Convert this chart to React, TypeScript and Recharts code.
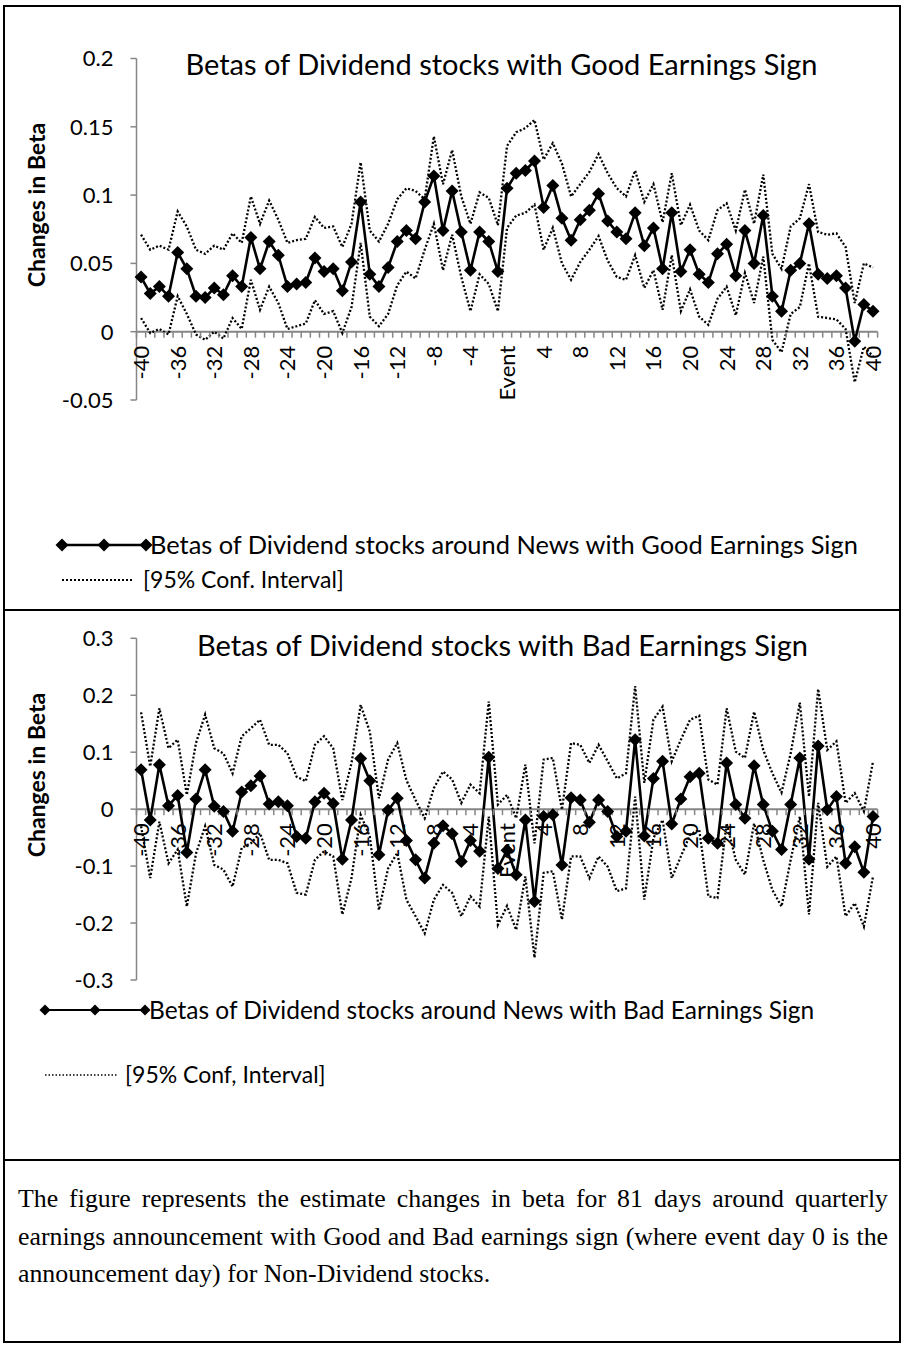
import React from 'react';
import { LineChart, Line, XAxis, YAxis, ReferenceLine, ReferenceDot } from 'recharts';

const days = [
  -40, -39, -38, -37, -36, -35, -34, -33, -32, -31, -30, -29, -28, -27, -26, -25, -24, -23, -22, -21,
  -20, -19, -18, -17, -16, -15, -14, -13, -12, -11, -10, -9, -8, -7, -6, -5, -4, -3, -2, -1,
  0, 1, 2, 3, 4, 5, 6, 7, 8, 9, 10, 11, 12, 13, 14, 15, 16, 17, 18, 19,
  20, 21, 22, 23, 24, 25, 26, 27, 28, 29, 30, 31, 32, 33, 34, 35, 36, 37, 38, 39, 40,
];
const dayTicks = [-40, -36, -32, -28, -24, -20, -16, -12, -8, -4, 0, 4, 8, 12, 16, 20, 24, 28, 32, 36, 40];

// good earnings sign
const goodBeta = [
  0.040, 0.028, 0.033, 0.026, 0.058, 0.046, 0.026, 0.025, 0.032, 0.027,
  0.041, 0.033, 0.069, 0.046, 0.066, 0.056, 0.033, 0.035, 0.036, 0.054,
  0.044, 0.046, 0.030, 0.051, 0.095, 0.042, 0.033, 0.047, 0.066, 0.074,
  0.068, 0.095, 0.114, 0.074, 0.103, 0.073, 0.045, 0.073, 0.066, 0.044,
  0.105, 0.116, 0.118, 0.125, 0.091, 0.107, 0.083, 0.067, 0.082, 0.089,
  0.101, 0.081, 0.073, 0.068, 0.087, 0.063, 0.076, 0.046, 0.087, 0.044,
  0.060, 0.042, 0.036, 0.057, 0.064, 0.041, 0.074, 0.050, 0.085, 0.026,
  0.015, 0.045, 0.050, 0.079, 0.042, 0.039, 0.041, 0.032, -0.007, 0.020,
  0.015,
];
const goodUpper = [
  0.071, 0.060, 0.063, 0.060, 0.088, 0.077, 0.060, 0.057, 0.063, 0.060,
  0.072, 0.065, 0.099, 0.079, 0.096, 0.082, 0.065, 0.067, 0.068, 0.084,
  0.076, 0.077, 0.062, 0.079, 0.124, 0.074, 0.066, 0.079, 0.097, 0.105,
  0.103, 0.097, 0.143, 0.108, 0.133, 0.099, 0.079, 0.102, 0.098, 0.078,
  0.136, 0.146, 0.149, 0.155, 0.126, 0.138, 0.123, 0.099, 0.108, 0.117,
  0.130, 0.116, 0.105, 0.099, 0.118, 0.095, 0.108, 0.080, 0.116, 0.078,
  0.093, 0.074, 0.067, 0.089, 0.094, 0.074, 0.104, 0.079, 0.115, 0.057,
  0.046, 0.077, 0.083, 0.108, 0.073, 0.071, 0.072, 0.062, 0.021, 0.050,
  0.047,
];
const goodLower = [
  0.010, -0.001, 0.002, -0.002, 0.026, 0.013, -0.002, -0.006, 0.000, -0.005,
  0.010, 0.002, 0.038, 0.016, 0.033, 0.021, 0.002, 0.004, 0.006, 0.023,
  0.013, 0.015, -0.001, 0.018, 0.065, 0.011, 0.004, 0.013, 0.034, 0.044,
  0.039, 0.060, 0.079, 0.045, 0.071, 0.040, 0.015, 0.042, 0.035, 0.015,
  0.076, 0.085, 0.087, 0.093, 0.060, 0.076, 0.050, 0.038, 0.051, 0.060,
  0.070, 0.052, 0.040, 0.038, 0.056, 0.032, 0.045, 0.016, 0.056, 0.015,
  0.031, 0.011, 0.005, 0.024, 0.033, 0.012, 0.043, 0.021, 0.055, -0.006,
  -0.015, 0.013, 0.018, 0.050, 0.011, 0.010, 0.009, 0.002, -0.037, -0.011,
  -0.018,
];

// bad earnings sign
const badBeta = [
  0.069, -0.019, 0.078, 0.006, 0.024, -0.076, 0.018, 0.069, 0.005, -0.004,
  -0.039, 0.030, 0.041, 0.058, 0.009, 0.013, 0.006, -0.048, -0.051, 0.013,
  0.028, 0.010, -0.088, -0.019, 0.089, 0.050, -0.080, -0.002, 0.019, -0.055,
  -0.089, -0.121, -0.060, -0.029, -0.043, -0.092, -0.055, -0.074, 0.091, -0.104,
  -0.072, -0.115, -0.019, -0.162, -0.013, -0.010, -0.098, 0.020, 0.016, -0.023,
  0.016, -0.004, -0.048, -0.039, 0.122, -0.047, 0.054, 0.084, -0.026, 0.018,
  0.057, 0.063, -0.051, -0.060, 0.081, 0.008, -0.016, 0.076, 0.008, -0.039,
  -0.071, 0.008, 0.090, -0.088, 0.111, -0.001, 0.022, -0.095, -0.066, -0.111,
  -0.013,
];
const badUpper = [
  0.170, 0.075, 0.177, 0.107, 0.122, 0.025, 0.116, 0.166, 0.107, 0.098,
  0.063, 0.128, 0.142, 0.157, 0.113, 0.113, 0.098, 0.057, 0.049, 0.113,
  0.128, 0.107, 0.016, 0.081, 0.183, 0.136, 0.019, 0.087, 0.116, 0.051,
  0.016, -0.016, 0.037, 0.066, 0.052, 0.011, 0.043, 0.028, 0.189, 0.008,
  0.025, -0.016, 0.078, -0.060, 0.087, 0.090, -0.001, 0.116, 0.113, 0.081,
  0.113, 0.084, 0.054, 0.063, 0.216, 0.046, 0.157, 0.180, 0.084, 0.122,
  0.157, 0.164, 0.052, 0.043, 0.177, 0.101, 0.090, 0.171, 0.104, 0.063,
  0.029, 0.098, 0.187, 0.022, 0.211, 0.104, 0.119, 0.011, 0.028, -0.004,
  0.084,
];
const badLower = [
  -0.030, -0.121, -0.022, -0.095, -0.071, -0.171, -0.078, -0.030, -0.098, -0.106,
  -0.136, -0.068, -0.060, -0.042, -0.089, -0.089, -0.095, -0.147, -0.150, -0.089,
  -0.074, -0.083, -0.185, -0.121, -0.010, -0.048, -0.177, -0.104, -0.077, -0.159,
  -0.188, -0.218, -0.159, -0.133, -0.147, -0.188, -0.153, -0.171, -0.013, -0.203,
  -0.170, -0.212, -0.118, -0.261, -0.112, -0.109, -0.194, -0.083, -0.083, -0.121,
  -0.083, -0.101, -0.144, -0.139, 0.022, -0.159, -0.051, -0.019, -0.121, -0.083,
  -0.045, -0.036, -0.153, -0.156, -0.025, -0.089, -0.115, -0.025, -0.089, -0.142,
  -0.171, -0.089, -0.013, -0.185, 0.011, -0.101, -0.083, -0.188, -0.165, -0.206,
  -0.118,
];

const goodYTicks = [-0.05, 0, 0.05, 0.1, 0.15, 0.2];
const badYTicks = [-0.3, -0.2, -0.1, 0, 0.1, 0.2, 0.3];

const FONT = 'Lato, "Open Sans", sans-serif';
const AXIS = '#868686';

const goodData = days.map((d, i) => ({ day: d, beta: goodBeta[i], upper: goodUpper[i], lower: goodLower[i] }));
const badData = days.map((d, i) => ({ day: d, beta: badBeta[i], upper: badUpper[i], lower: badLower[i] }));
// category boundaries for the small tick marks
const tickBounds = days.map(d => d - 0.5).concat([days[days.length - 1] + 0.5]);

const fmt = (v: number) => String(+v.toFixed(2));

const Diamond = (props: any) => {
  const { cx, cy, index } = props;
  if (cx == null || cy == null) return null;
  const s = 6.5;
  return <path key={`d-${index}`} d={`M${cx},${cy - s}L${cx + s},${cy}L${cx},${cy + s}L${cx - s},${cy}Z`} fill="#000" />;
};

function BetaChart({ data, domain, ticks, height, top, bottom }: any) {
  return (
    <LineChart width={904} height={height} data={data} margin={{ top, right: 26.4, left: 76.5, bottom }}>
      <XAxis dataKey="day" type="number" domain={[-40.5, 40.5]} hide />
      <YAxis
        type="number"
        domain={domain}
        ticks={ticks}
        interval={0}
        width={60}
        tickFormatter={fmt}
        tickSize={6}
        tickMargin={17}
        axisLine={{ stroke: AXIS, strokeWidth: 1.5 }}
        tickLine={{ stroke: AXIS, strokeWidth: 1.5 }}
        tick={{ fill: '#000', fontSize: 22, fontFamily: FONT }}
      />
      <ReferenceLine y={0} stroke={AXIS} strokeWidth={2} />
      {tickBounds.map(b => (
        <ReferenceDot
          key={`tb${b}`}
          x={b}
          y={0}
          r={0}
          shape={(p: any) => <line x1={p.cx} y1={p.cy} x2={p.cx} y2={p.cy + 6} stroke={AXIS} strokeWidth={1.5} />}
        />
      ))}
      {dayTicks.map(d => (
        <ReferenceDot
          key={`lab${d}`}
          x={d}
          y={0}
          r={0}
          shape={(p: any) => (
            <text
              transform={`translate(${p.cx},${p.cy + 14}) rotate(-90)`}
              textAnchor="end"
              dy="0.36em"
              fontSize={22}
              fontFamily={FONT}
              fill="#000"
            >
              {d === 0 ? 'Event' : String(d)}
            </text>
          )}
        />
      ))}
      <Line dataKey="upper" stroke="#000" strokeWidth={2.3} strokeDasharray="2 2" dot={false} isAnimationActive={false} />
      <Line dataKey="lower" stroke="#000" strokeWidth={2.3} strokeDasharray="2 2" dot={false} isAnimationActive={false} />
      <Line dataKey="beta" stroke="#000" strokeWidth={2.6} dot={Diamond} isAnimationActive={false} />
    </LineChart>
  );
}

const legendDiamond = (x: number, y: number, s: number) => (
  <path d={`M${x},${y - s}L${x + s},${y}L${x},${y + s}L${x - s},${y}Z`} fill="#000" />
);

export default function App() {
  return (
    <div style={{ position: 'absolute', left: 0, top: 0, width: 904, height: 1353, background: '#fff', overflow: 'hidden' }}>
      <div style={{ position: 'absolute', left: 0, top: 0 }}>
        <BetaChart data={goodData} domain={[-0.05, 0.2]} ticks={goodYTicks} height={610} top={58.5} bottom={210} />
      </div>
      <div style={{ position: 'absolute', left: 0, top: 610 }}>
        <BetaChart data={badData} domain={[-0.3, 0.3]} ticks={badYTicks} height={550} top={28.3} bottom={180} />
      </div>

      <svg width={904} height={1353} style={{ position: 'absolute', left: 0, top: 0, pointerEvents: 'none' }}>
        <g fontFamily={FONT} fill="#000">
          <text x={501.5} y={75} textAnchor="middle" fontSize={29}>Betas of Dividend stocks with Good Earnings Sign</text>
          <text x={502.5} y={656} textAnchor="middle" fontSize={29}>Betas of Dividend stocks with Bad Earnings Sign</text>
          <text transform="translate(45,205) rotate(-90)" textAnchor="middle" fontSize={23} fontWeight="bold">Changes in Beta</text>
          <text transform="translate(45,775) rotate(-90)" textAnchor="middle" fontSize={23} fontWeight="bold">Changes in Beta</text>

          <line x1={62} y1={545} x2={146} y2={545} stroke="#000" strokeWidth={2.5} />
          {legendDiamond(62, 545, 6.5)}
          {legendDiamond(104, 545, 6.5)}
          {legendDiamond(146, 545, 6.5)}
          <text x={150} y={545} dy="0.35em" fontSize={25.4}>Betas of Dividend stocks around News with Good Earnings Sign</text>
          <line x1={62} y1={580} x2={133} y2={580} stroke="#000" strokeWidth={2} strokeDasharray="2 2" />
          <text x={143} y={580} dy="0.35em" fontSize={23}>[95% Conf. Interval]</text>

          <line x1={45} y1={1010} x2={145} y2={1010} stroke="#000" strokeWidth={2} />
          {legendDiamond(45, 1010, 5.5)}
          {legendDiamond(95, 1010, 5.5)}
          {legendDiamond(145, 1010, 5.5)}
          <text x={149} y={1010} dy="0.35em" fontSize={24.5}>Betas of Dividend stocks around News with Bad Earnings Sign</text>
          <line x1={45} y1={1075} x2={117} y2={1075} stroke="#000" strokeWidth={1.5} strokeDasharray="1.5 2" />
          <text x={125} y={1075} dy="0.35em" fontSize={23}>[95% Conf, Interval]</text>
        </g>
      </svg>

      <div style={{ position: 'absolute', left: 3, top: 5, width: 898, height: 1338, border: '2px solid #000', boxSizing: 'border-box' }} />
      <div style={{ position: 'absolute', left: 3, top: 609, width: 898, height: 2, background: '#000' }} />
      <div style={{ position: 'absolute', left: 3, top: 1159, width: 898, height: 2, background: '#000' }} />

      <div style={{ position: 'absolute', left: 18, top: 1180, width: 870, fontFamily: '"Liberation Serif", "Times New Roman", serif', fontSize: 25.8, lineHeight: '37.5px', color: '#000' }}>
        <div style={{ textAlign: 'justify', textAlignLast: 'justify', whiteSpace: 'nowrap' as any }}>The figure represents the estimate changes in beta for 81 days around quarterly</div>
        <div style={{ textAlign: 'justify', textAlignLast: 'justify', whiteSpace: 'nowrap' as any }}>earnings announcement with Good and Bad earnings sign (where event day 0 is the</div>
        <div>announcement day) for Non-Dividend stocks.</div>
      </div>
    </div>
  );
}
